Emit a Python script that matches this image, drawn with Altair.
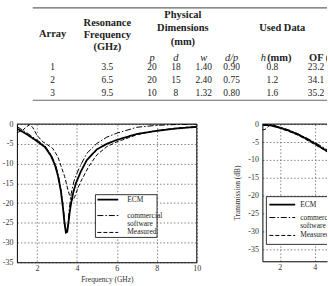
import altair as alt
import pandas as pd

# ---------------- table values ----------------
array_ids = [1, 2, 3]
res_freq = [3.5, 6.5, 9.5]
p_mm = [20, 20, 10]
d_mm = [18, 15, 8]
w_mm = [1.40, 2.40, 1.32]
d_over_p = [0.90, 0.75, 0.80]
h_mm = [0.8, 1.2, 1.6]
of_pct = [23.2, 34.1, 35.2]

# ---------------- reflection curves (left panel) ----------------
refl_ecm_f = [1.0, 1.5, 2.0, 2.4, 2.7, 2.9, 3.05, 3.2, 3.3, 3.38, 3.45, 3.52, 3.58,
              3.65, 3.72, 3.82, 3.95, 4.2, 4.5, 5.0, 5.5, 6.0, 7.0, 8.0, 9.0, 10.0]
refl_ecm_db = [-1.1, -2.6, -4.3, -5.8, -8.0, -10.3, -13.0, -17.0, -21.0, -25.0, -27.5,
               -27.3, -25.0, -22.0, -19.8, -17.3, -15.0, -12.0, -9.1, -6.4, -5.0, -4.0,
               -2.5, -1.7, -1.1, -0.7]

refl_sw_f = [1.0, 1.5, 2.0, 2.4, 2.7, 2.95, 3.1, 3.25, 3.35, 3.42, 3.48, 3.55, 3.62,
             3.72, 3.85, 4.0, 4.2, 4.5, 5.0, 5.5, 6.0, 7.0, 8.0, 9.0, 10.0]
refl_sw_db = [-0.6, -2.2, -4.0, -5.5, -7.6, -10.5, -13.5, -18.0, -22.5, -26.0, -27.3,
              -25.5, -21.5, -17.5, -14.5, -12.5, -10.3, -7.4, -4.9, -3.3, -2.3, -0.8,
              -0.3, -0.1, 0.0]

refl_meas_f = [1.0, 1.3, 1.5, 1.65, 1.8, 2.0, 2.3, 2.55, 2.8, 3.05, 3.2, 3.39, 3.55,
               3.65, 3.8, 3.9, 4.05, 4.2, 4.6, 5.0, 5.5, 6.0, 7.0, 8.0, 9.0, 10.0]
refl_meas_db = [-2.2, -1.5, -0.6, -0.1, -0.9, -2.8, -4.5, -5.3, -6.2, -8.3, -10.5,
                -13.3, -16.6, -18.3, -19.3, -18.3, -16.2, -14.5, -10.7, -7.8, -5.7,
                -4.5, -2.7, -1.6, -1.0, -0.6]

# ---------------- transmission curves (right panel) ----------------
trans_ecm_f = [1.0, 1.5, 2.0, 2.5, 3.0, 3.5, 4.0, 4.5, 5.0]
trans_ecm_db = [-0.2, -0.4, -1.0, -1.8, -2.8, -4.0, -5.4, -6.9, -8.5]

trans_sw_f = [1.0, 1.5, 2.0, 2.5, 3.0, 3.5, 4.0, 4.5, 5.0]
trans_sw_db = [0.0, -0.2, -0.8, -1.6, -2.6, -3.8, -5.1, -6.5, -8.0]

trans_meas_f = [1.0, 1.15, 1.3, 1.45, 1.7, 2.0, 2.5, 3.0, 3.5, 4.0, 4.5, 5.0]
trans_meas_db = [-1.6, -1.5, -0.8, -0.2, -0.3, -1.2, -2.0, -3.0, -4.3, -5.7, -7.1, -8.6]

series_names = ["ECM", "commercial software", "Measured"]
legend_texts = ["ECM", "commercial\nsoftware", "Measured"]

FONT = "Liberation Serif"
LINE_STYLES = [  # (strokeDash, strokeWidth)
    ([1, 0], 1.8),
    ([6, 2, 1.5, 2], 1.0),
    ([4, 2], 1.0),
]
Y_TICKS = [0, -5, -10, -15, -20, -25, -30, -35]

# ---------------- table ----------------
TW, TH = 312, 104
X0 = 16  # left edge of the table view in page terms
cols = {"arr": 52, "res": 107, "p": 152, "d": 176, "w": 204, "dp": 232, "h": 273, "of": 317}
row_y = [67, 80, 93]
SUB_Y = 58


def tx(c):
    return cols[c] - X0


body = []
for i in range(3):
    vals = [("arr", f"{array_ids[i]}"), ("res", f"{res_freq[i]:.1f}"), ("p", f"{p_mm[i]}"),
            ("d", f"{d_mm[i]}"), ("w", f"{w_mm[i]:.2f}"), ("dp", f"{d_over_p[i]:.2f}"),
            ("h", f"{h_mm[i]:.1f}"), ("of", f"{of_pct[i]:.1f}")]
    for c, t in vals:
        body.append({"x": tx(c), "y": row_y[i], "t": t})
body_df = pd.DataFrame(body)

bold_df = pd.DataFrame([
    {"x": tx("arr"), "y": 33, "t": "Array"},
    {"x": tx("res"), "y": 22, "t": "Resonance"},
    {"x": tx("res"), "y": 34, "t": "Frequency"},
    {"x": tx("res"), "y": 46, "t": "(GHz)"},
    {"x": 183 - X0, "y": 14, "t": "Physical"},
    {"x": 183 - X0, "y": 27, "t": "Dimensions"},
    {"x": 183 - X0, "y": 41, "t": "(mm)"},
    {"x": 283 - X0, "y": 27, "t": "Used Data"},
    {"x": 280 - X0, "y": SUB_Y, "t": "(mm)"},
])
# header of the last column, clipped at the right edge of the view
of_head_df = pd.DataFrame([{"x": 310 - X0, "y": SUB_Y, "t": "OF (%)"}])
ital_df = pd.DataFrame([
    {"x": tx("p"), "y": SUB_Y, "t": "p"},
    {"x": tx("d"), "y": SUB_Y, "t": "d"},
    {"x": tx("w"), "y": SUB_Y, "t": "w"},
    {"x": tx("dp"), "y": SUB_Y, "t": "d/p"},
    {"x": 264 - X0, "y": SUB_Y, "t": "h"},
])
rules_df = pd.DataFrame([
    {"x": 32 - X0, "x2": TW, "y": 7, "sw": 1.2},
    {"x": 32 - X0, "x2": TW, "y": 100, "sw": 1.2},
])

px = lambda f: alt.X(f, scale=None, axis=None)
py = lambda f: alt.Y(f, scale=None, axis=None)

t_rules = alt.Chart(rules_df).mark_rule(color="#666").encode(
    x=px("x:Q"), x2="x2:Q", y=py("y:Q"), strokeWidth=alt.StrokeWidth("sw:Q", scale=None))
t_body = alt.Chart(body_df).mark_text(font=FONT, fontSize=9.5, color="#222",
                                      baseline="middle", align="center", clip=True).encode(
    x=px("x:Q"), y=py("y:Q"), text="t:N")
t_bold = alt.Chart(bold_df).mark_text(font=FONT, fontSize=10.5, fontWeight="bold", color="#222",
                                      baseline="middle", align="center").encode(
    x=px("x:Q"), y=py("y:Q"), text="t:N")
t_of = alt.Chart(of_head_df).mark_text(font=FONT, fontSize=10.5, fontWeight="bold", color="#222",
                                       baseline="middle", align="left", clip=True).encode(
    x=px("x:Q"), y=py("y:Q"), text="t:N")
t_ital = alt.Chart(ital_df).mark_text(font=FONT, fontSize=10.5, fontStyle="italic", color="#222",
                                      baseline="middle", align="center").encode(
    x=px("x:Q"), y=py("y:Q"), text="t:N")
table = alt.layer(t_rules, t_body, t_bold, t_of, t_ital).properties(width=TW, height=TH)


# ---------------- plots ----------------
def curves(fs, dbs):
    return [pd.DataFrame({"freq": f, "db": db, "series": name})
            for f, db, name in zip(fs, dbs, series_names)]


def legend_layers(x_box, x2_box, y_box, y2_box, x_line, x2_line, ys, x_text):
    one = pd.DataFrame({"k": [0]})
    out = [alt.Chart(one).mark_rect(fill="white", stroke="black", strokeWidth=0.8, clip=True).encode(
        x=alt.value(x_box), x2=alt.value(x2_box), y=alt.value(y_box), y2=alt.value(y2_box))]
    for (dash, sw), txt, yy in zip(LINE_STYLES, legend_texts, ys):
        out.append(alt.Chart(one).mark_rule(color="black", strokeDash=dash, strokeWidth=sw).encode(
            x=alt.value(x_line), x2=alt.value(x2_line), y=alt.value(yy)))
        out.append(alt.Chart(pd.DataFrame({"t": [txt]})).mark_text(
            font=FONT, fontSize=7.5, color="#222", align="left", baseline="middle",
            lineBreak="\n", lineHeight=8.5, clip=True).encode(
            x=alt.value(x_text), y=alt.value(yy), text="t:N"))
    return out


def panel(fs, dbs, xdom, ydom, w, h, xticks, ytitle, xtitle, frame_right, leg):
    xs = alt.Scale(domain=xdom, nice=False, zero=False)
    ys = alt.Scale(domain=ydom, nice=False, zero=False)
    xaxis = alt.Axis(values=xticks, title=xtitle, grid=True, ticks=False, labelPadding=2,
                     titlePadding=3, domainColor="black", domainWidth=1,
                     labelOverlap=False, labelFlush=False,
                     labelExpr="datum.value + ''")
    yaxis = alt.Axis(values=Y_TICKS, title=ytitle, grid=True, ticks=False, labelPadding=4,
                     titlePadding=6, domainColor="black", domainWidth=1,
                     labelOverlap=False, labelFlush=False,
                     labelExpr="datum.value + ''")
    layers = []
    for df, (dash, sw) in zip(curves(fs, dbs), LINE_STYLES):
        layers.append(alt.Chart(df).mark_line(color="black", strokeDash=dash, strokeWidth=sw,
                                              clip=True).encode(
            x=alt.X("freq:Q", scale=xs, axis=xaxis),
            y=alt.Y("db:Q", scale=ys, axis=yaxis)))
    # top (and right) edges of the frame
    top = alt.Chart(pd.DataFrame({"db": [ydom[1]]})).mark_rule(color="black", strokeWidth=1).encode(
        y=alt.Y("db:Q", scale=ys, axis=yaxis))
    layers.append(top)
    if frame_right:
        right = alt.Chart(pd.DataFrame({"freq": [xdom[1]]})).mark_rule(color="black", strokeWidth=1).encode(
            x=alt.X("freq:Q", scale=xs, axis=xaxis))
        layers.append(right)
    layers += leg
    return alt.layer(*layers).properties(width=w, height=h)


left = panel([refl_ecm_f, refl_sw_f, refl_meas_f], [refl_ecm_db, refl_sw_db, refl_meas_db],
             [1, 10], [-35, 0], 181, 139, [2, 4, 6, 8, 10], None, "Frequency (GHz)", True,
             legend_layers(79, 141, 71, 114, 81, 102, [76, 92, 109], 111))

right = panel([trans_ecm_f, trans_sw_f, trans_meas_f], [trans_ecm_db, trans_sw_db, trans_meas_db],
              [1, 4.71], [-38.3, 0], 65, 138, [2, 4], "Transmission (dB)", None, False,
              legend_layers(4, 90, 73, 121, 7, 33, [81, 94, 112], 38))

plots = alt.hconcat(left, right, spacing=66, bounds="flush")
chart = alt.vconcat(table, plots, spacing=20, bounds="flush").properties(
    padding={"left": 2, "top": 0, "right": 0, "bottom": 0}
).configure(font=FONT).configure_view(stroke=None).configure_axis(
    labelFont=FONT, titleFont=FONT, labelFontSize=8, titleFontSize=7.5, titleFontWeight="normal",
    labelColor="#333", titleColor="#333", gridColor="#666", gridDash=[1.5, 2], gridWidth=0.8
)

chart.save("out.html", embed_options={"renderer": "svg", "actions": False})
